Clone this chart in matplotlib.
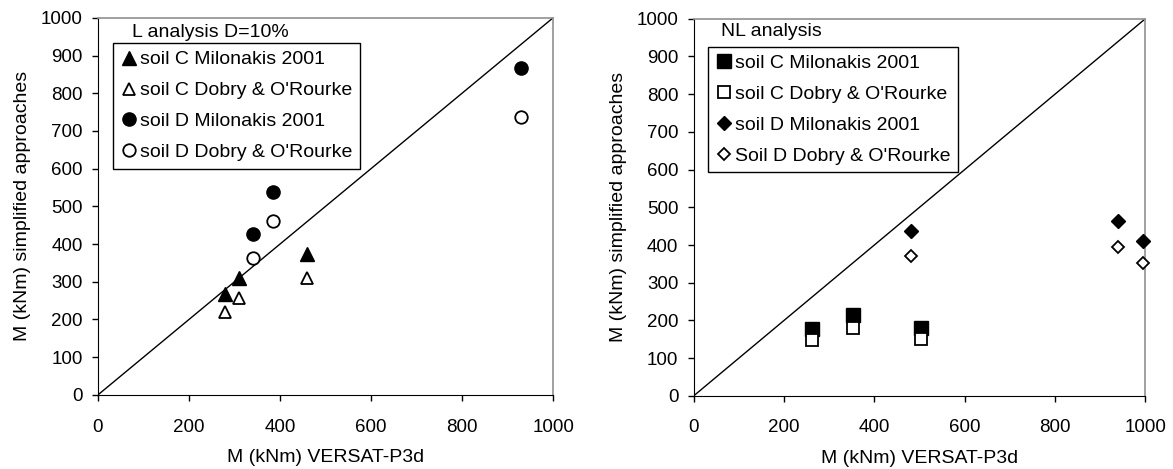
import matplotlib
matplotlib.use('Agg')
import matplotlib.pyplot as plt

plt.rcParams['font.family'] = ['Liberation Sans', 'DejaVu Sans']

# left panel: linear analysis, D=10%
l_c_x = [280, 309, 459]
l_c_milonakis = [268, 310, 374]
l_c_dobry = [219, 258, 311]
l_d_x = [340, 384, 929]
l_d_milonakis = [426, 539, 868]
l_d_dobry = [362, 460, 737]

# right panel: non-linear analysis
nl_c_x = [262, 353, 503]
nl_c_milonakis = [177, 215, 179]
nl_c_dobry = [148, 180, 150]
nl_d_x = [482, 940, 994]
nl_d_milonakis = [438, 463, 411]
nl_d_dobry = [371, 394, 351]

diag = [0, 1000]
ticks_x = [0, 200, 400, 600, 800, 1000]
ticks_y = list(range(0, 1001, 100))

fig = plt.figure(figsize=(11.73, 4.69), dpi=100)
ax1 = fig.add_axes([0.0835, 0.158, 0.388, 0.804])
ax2 = fig.add_axes([0.5914, 0.156, 0.385, 0.804])


def style(ax):
    ax.set_xlim(0, 1000)
    ax.set_ylim(0, 1000)
    ax.set_xticks(ticks_x)
    ax.set_yticks(ticks_y)
    ax.tick_params(direction='out', length=4, width=1, labelsize=13.5,
                   top=False, right=False)
    ax.tick_params(axis='x', pad=13)
    ax.tick_params(axis='y', pad=7)
    for s in ['left', 'bottom']:
        ax.spines[s].set_color('black')
    for s in ['top', 'right']:
        ax.spines[s].set_color('#909090')
        ax.spines[s].set_linewidth(1.2)
    ax.plot(diag, diag, color='black', lw=1)
    ax.set_xlabel('M (kNm) VERSAT-P3d', fontsize=14, labelpad=10)
    ax.set_ylabel('M (kNm) simplified approaches', fontsize=14, labelpad=7)


def legend(ax, x, y):
    leg = ax.legend(loc='upper left', bbox_to_anchor=(x, y), borderaxespad=0,
                    fontsize=14, fancybox=False, edgecolor='black',
                    framealpha=1, handlelength=0.9, handletextpad=0.1,
                    borderpad=0.4, labelspacing=0.68)
    leg.get_frame().set_linewidth(1)


kw_full = dict(ls='none', color='black', clip_on=False, zorder=3)
kw_open = dict(ls='none', mfc='white', mec='black', mew=1.3, clip_on=False, zorder=3)

style(ax1)
ax1.plot(l_c_x, l_c_milonakis, marker='^', ms=9.5, label='soil C Milonakis 2001', **kw_full)
ax1.plot(l_c_x, l_c_dobry, marker='^', ms=9, label="soil C Dobry & O'Rourke", **kw_open)
ax1.plot(l_d_x, l_d_milonakis, marker='o', ms=9.5, label='soil D Milonakis 2001', **kw_full)
ax1.plot(l_d_x, l_d_dobry, marker='o', ms=9, label="soil D Dobry & O'Rourke", **kw_open)
ax1.text(0.074, 0.96, 'L analysis D=10%', transform=ax1.transAxes,
         fontsize=14, va='center', ha='left')
legend(ax1, 0.032, 0.933)

style(ax2)
ax2.plot(nl_c_x, nl_c_milonakis, marker='s', ms=9.5, label='soil C Milonakis 2001', **kw_full)
ax2.plot(nl_c_x, nl_c_dobry, marker='s', ms=9, label="soil C Dobry & O'Rourke", **kw_open)
ax2.plot(nl_d_x, nl_d_milonakis, marker='D', ms=7, label='soil D Milonakis 2001', **kw_full)
ax2.plot(nl_d_x, nl_d_dobry, marker='D', ms=6.5, label="Soil D Dobry & O'Rourke", **kw_open)
ax2.text(0.06, 0.965, 'NL analysis', transform=ax2.transAxes,
         fontsize=14, va='center', ha='left')
legend(ax2, 0.031, 0.926)

fig.savefig('out.png', dpi=100)
